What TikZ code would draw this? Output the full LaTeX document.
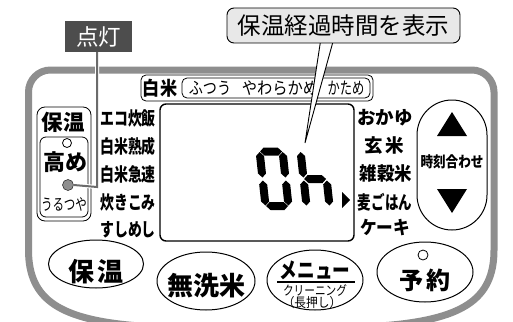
\documentclass[tikz,border=0pt]{standalone}
\usepackage{fontspec}
\setmainfont{Noto Sans CJK JP}
\usepackage{graphicx}
\usetikzlibrary{shapes.geometric}
\definecolor{panelgray}{HTML}{8E8E8E}
\definecolor{leadgray}{HTML}{6B6B6B}
\definecolor{litgray}{HTML}{4D4D4D}
\definecolor{callgray}{HTML}{E8E8E8}
\newcommand{\fsz}[1]{\fontsize{#1}{#1}\selectfont}
\newcommand{\narrow}[2]{\scalebox{#1}[1]{#2}}
% LCD segments: horizontal (x1,x2,y) and vertical (x,ybottom,ytop)
\newcommand{\hseg}[3]{\fill (#1,#3) -- (#1+4,#3-4) -- (#2-4,#3-4) -- (#2,#3) -- (#2-4,#3+4) -- (#1+4,#3+4) -- cycle;}
\newcommand{\vseg}[3]{\fill (#1,#2) -- (#1+4,#2-4) -- (#1+4,#3+4) -- (#1,#3) -- (#1-4,#3+4) -- (#1-4,#2-4) -- cycle;}
\tikzset{
  txt/.style={inner sep=0pt},
  btn/.style={ellipse, draw, line width=1pt, inner sep=0pt},
  dotopen/.style={circle, draw, line width=0.8pt, inner sep=0pt, minimum size=9pt},
  thinbox/.style={draw, line width=0.8pt},
}
\begin{document}
\begin{tikzpicture}[x=1pt,y=-1pt]
\clip (0,0) rectangle (513,321);
\fill[white] (0,0) rectangle (513,321);
% panel outline
\draw[panelgray, line width=7pt] (28.5,250) -- (28.5,92) arc[start angle=180, end angle=270, radius=22]
  -- (472,70) arc[start angle=270, end angle=360, radius=22] -- (494,250)
  .. controls (494,300) and (462,320) .. (380,326) -- (140,326)
  .. controls (60,320) and (28.5,300) .. (28.5,250);
% rice type bar
\draw[thinbox, rounded corners=5pt] (141,75) rectangle (373,101);
\draw[thinbox, rounded corners=5pt] (182,78) rectangle (370,98);
\node[txt, font={\fsz{19}\bfseries}] (hakumai) at (160,88) {\narrow{0.9}{白米}};
\node[txt, font={\fsz{17}}] (futsuu) at (210,88) {\narrow{0.83}{ふつう}};
\node[txt, font={\fsz{17}}] (yawara) at (280,88) {\narrow{0.9}{やわらかめ}};
\node[txt, font={\fsz{17}}] (katame) at (346,88) {\narrow{0.72}{かため}};
% display
\draw[line width=1.4pt, rounded corners=6pt] (160,104) rectangle (354,241);
\begin{scope}[shift={(262,210)}, xslant=-0.11]
\hseg{4.5}{26.5}{-58.5}
\hseg{4.5}{26.5}{-4}
\vseg{4}{-32.5}{-58}
\vseg{4}{-4.5}{-29.5}
\vseg{27}{-32.5}{-58}
\vseg{27}{-4.5}{-29.5}
\end{scope}
\begin{scope}[shift={(303,210)}, xslant=-0.11]
\vseg{4}{-32.5}{-58}
\vseg{4}{-4.5}{-29.5}
\hseg{4.5}{26.5}{-31}
\vseg{27}{-4.5}{-29.5}
\end{scope}
\fill (342,192) -- (350,200) -- (342,208) -- cycle;
% menus left
\node[txt, font={\fsz{18.5}\bfseries}] (eco) at (128,118) {\narrow{0.75}{エコ炊飯}};
\node[txt, font={\fsz{18.5}\bfseries}] (jukusei) at (128,146) {\narrow{0.75}{白米熟成}};
\node[txt, font={\fsz{18.5}\bfseries}] (kyusoku) at (128,174) {\narrow{0.75}{白米急速}};
\node[txt, font={\fsz{18.5}\bfseries}] (takikomi) at (128,202) {\narrow{0.75}{炊きこみ}};
\node[txt, font={\fsz{18.5}\bfseries}] (sushi) at (128,230) {\narrow{0.75}{すしめし}};
% menus right
\node[txt, font={\fsz{18.5}\bfseries}] (okayu) at (385,118) {おかゆ};
\node[txt, font={\fsz{18.5}\bfseries}] (genmai) at (384,146) {玄\hspace{3pt}米};
\node[txt, font={\fsz{18.5}\bfseries}] (zakkoku) at (386,173) {\narrow{0.94}{雑穀米}};
\node[txt, font={\fsz{18.5}\bfseries}] (mugi) at (385,202) {\narrow{0.73}{麦ごはん}};
\node[txt, font={\fsz{18.5}\bfseries}] (cake) at (385,228) {\narrow{0.9}{ケーキ}};
% keep-warm group
\draw[thinbox, rounded corners=8pt] (37,107) rectangle (91,221);
\draw[thinbox, rounded corners=6pt] (40,137) rectangle (88,217);
\node[txt, font={\fsz{21.5}\bfseries}] (hoon) at (63,122) {保温};
\node[dotopen] (dotkeep) at (67,143) {};
\node[txt, font={\fsz{22}\bfseries}] (takame) at (65,162) {高め};
\node[circle, draw=black!80, fill=panelgray, line width=0.6pt, inner sep=0pt, minimum size=11pt] (dotlit) at (68,185) {};
\node[txt, font={\fsz{16}}] (urutsuya) at (64,204) {\narrow{0.72}{うるつや}};
% clock set key
\draw[line width=1pt, rounded corners=35pt] (417,100) rectangle (487,230);
\fill (437,136) -- (452,112) -- (467,136) -- cycle;
\fill (437,189) -- (452,213) -- (467,189) -- cycle;
\node[txt, font={\fsz{15}\bfseries}] (jikoku) at (452,162) {\narrow{0.84}{時刻合わせ}};
% buttons
\node[btn, minimum width=95pt, minimum height=48pt] (bkeep) at (96,264) {};
\node[txt, font={\fsz{26}\bfseries}] (tkeep) at (96,272) {保\hspace{3pt}温};
\node[btn, minimum width=98pt, minimum height=58pt] (bmusen) at (206,281) {};
\node[txt, font={\fsz{26}\bfseries}] (tmusen) at (206,286) {無洗米};
\node[btn, minimum width=96pt, minimum height=60pt] (bmenu) at (315,280) {};
\node[txt, font={\fsz{22}\bfseries}] (tmenu) at (315,270) {\narrow{0.8}{メニュー}};
\draw[line width=1.2pt] (277,282) -- (355,282);
\node[txt, font={\fsz{13}}] (tclean) at (315,290) {\narrow{0.82}{クリーニング}};
\node[txt, font={\fsz{13}}] (tlong) at (312,303) {\narrow{0.9}{（長押し）}};
\node[btn, minimum width=96pt, minimum height=60pt] (bresv) at (425,272) {};
\node[dotopen, minimum size=10pt] (dotresv) at (423,255) {};
\node[txt, font={\fsz{24}\bfseries}] (tresv) at (425,280) {予\hspace{4pt}約};
% callout
\filldraw[fill=white, line width=0.9pt] (321,38) -- (305,143) -- (334,38) -- cycle;
\node[draw, fill=callgray, line width=0.9pt, rounded corners=7pt, minimum width=233pt, minimum height=35pt,
  inner sep=0pt, font={\fsz{23.5}}] (elapsed) at (343.5,25.5) {保温経過時間を表示};
% lamp tag
\node[fill=litgray, text=white, minimum width=67pt, minimum height=31pt, inner sep=0pt,
  font={\fsz{22.5}}] (lit) at (98.5,36.5) {点灯};
\coordinate (bend) at (97,187);
\draw[white, line width=4pt] (lit.south -| bend) -- (bend) -- (dotlit.east);
\draw[leadgray, line width=2pt] (lit.south -| bend) -- (bend) -- (dotlit.east);
\end{tikzpicture}
\end{document}
